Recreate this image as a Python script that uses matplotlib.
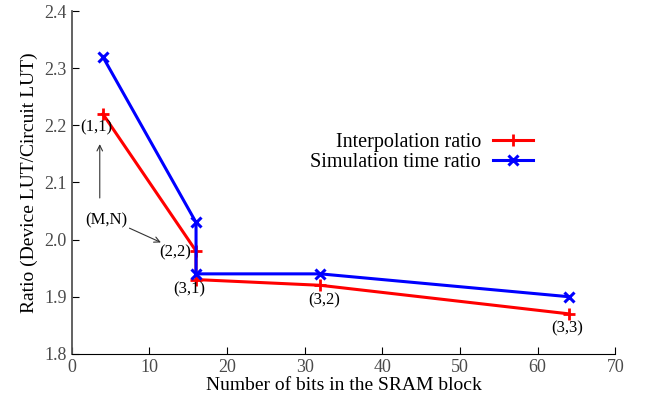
import matplotlib.pyplot as plt

plt.rcParams['font.family'] = ['Liberation Serif', 'DejaVu Serif']

# SRAM bits vs. ratio, the (M,N) configuration sits next to each point
bits = [4, 16, 16, 32, 64]
interp_ratio = [2.22, 1.98, 1.93, 1.92, 1.87]
sim_ratio = [2.32, 2.03, 1.94, 1.94, 1.90]
config_labels = ['(1,1)', '(2,2)', '(3,1)', '(3,2)', '(3,3)']

fig = plt.figure(figsize=(6.47, 3.98), dpi=100)
ax = fig.add_axes([0.111, 0.111, 0.84, 0.861])

ax.plot(bits, interp_ratio, color='red', lw=2.2, marker='+', ms=8, mew=2,
        label='Interpolation ratio')
ax.plot(bits, sim_ratio, color='blue', lw=2.2, marker='x', ms=7, mew=2.2,
        label='Simulation time ratio')

ax.set_xlim(0, 70)
ax.set_ylim(1.8, 2.4)
ax.set_xticks(range(0, 71, 10))
ax.set_yticks([1.8, 1.9, 2.0, 2.1, 2.2, 2.3, 2.4])
ax.set_yticklabels(['1.8', '1.9', '2.0', '2.1', '2.2', '2.3', '2.4'])
ax.tick_params(direction='in', labelsize=13, labelcolor='#4a4a4a', length=5)
ax.spines['top'].set_visible(False)
ax.spines['right'].set_visible(False)
ax.spines['left'].set_color('#555555')
ax.spines['left'].set_linewidth(1.3)

ax.set_xlabel('Number of bits in the SRAM block', fontsize=14, labelpad=1)
ax.set_ylabel('Ratio (Device LUT/Circuit LUT)', fontsize=14, labelpad=5)

# configuration labels
offsets = [(-0.9, -0.023), (-2.7, -0.003), (-0.9, -0.018), (0.5, -0.026), (-0.2, -0.025)]
for x, y, lab, (dx, dy) in zip(bits, interp_ratio, config_labels, offsets):
    ax.text(x + dx, y + dy, lab, fontsize=12, ha='center', va='center')

ax.text(4.4, 2.034, '(M,N)', fontsize=12, ha='center', va='center')
ax.annotate('', xy=(3.6, 2.172), xytext=(3.6, 2.068),
            arrowprops=dict(arrowstyle='->', color='#333333', lw=0.8))
ax.annotate('', xy=(11.8, 1.993), xytext=(7.1, 2.022),
            arrowprops=dict(arrowstyle='->', color='#333333', lw=0.8))

ax.legend(loc='upper left', bbox_to_anchor=(0.42, 0.675), frameon=False,
          markerfirst=False, fontsize=14.5, handlelength=2.0,
          labelspacing=0.05, borderpad=0, handletextpad=0.6)

fig.savefig('out.png', dpi=100)
